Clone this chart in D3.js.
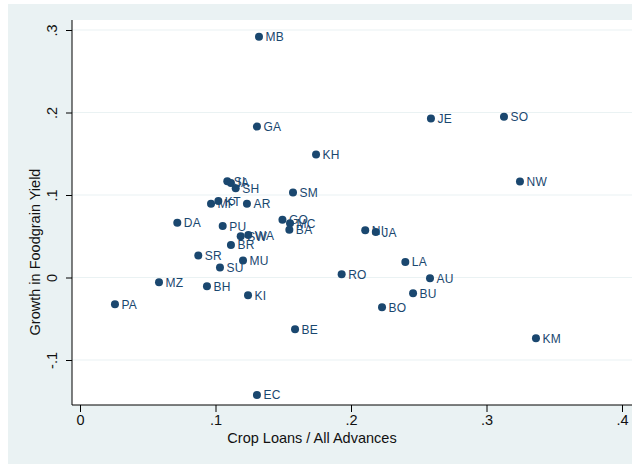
<!DOCTYPE html>
<html>
<head>
<meta charset="utf-8">
<script src="https://cdn.jsdelivr.net/npm/d3@7"></script>
<style>
  html, body { margin: 0; padding: 0; background: #ffffff; }
  svg { display: block; font-family: "Liberation Sans", Arial, Helvetica, sans-serif; }
</style>
</head>
<body>
<svg id="chart" width="636" height="464"></svg>
<script>
// Region codes, share of crop loans in all advances, and growth in foodgrain yield
const regions = ["MB","GA","JE","SO","KH","NW","SM","SI","IA","SH","KT","MP","AR","DA","PU",
  "SW","WA","BR","SR","MU","SU","GO","MC","BA","NI","JA","RO","LA","AU","BU","BO","BE","KM","EC","KI","BH","MZ","PA"];
const cropLoanShare = [0.1321,0.1306,0.2590,0.3129,0.1742,0.3247,0.1572,0.1087,0.1114,0.1149,0.1021,0.0967,0.1232,0.0718,0.1053,
  0.1186,0.1242,0.1114,0.0873,0.1203,0.1033,0.1494,0.1550,0.1545,0.2105,0.2183,0.1931,0.2401,0.2583,0.2458,0.2229,0.1587,0.3365,0.1306,0.1240,0.0937,0.0583,0.0258];
const yieldGrowth = [0.2918,0.1829,0.1926,0.1950,0.1491,0.1165,0.1031,0.1168,0.1146,0.1083,0.0926,0.0895,0.0895,0.0665,0.0624,
  0.0499,0.0515,0.0394,0.0266,0.0206,0.0121,0.0699,0.0657,0.0580,0.0572,0.0551,0.0040,0.0189,-0.0008,-0.0190,-0.0360,-0.0626,-0.0735,-0.1424,-0.0214,-0.0105,-0.0057,-0.0323];

const xTicks = [0, 0.1, 0.2, 0.3, 0.4];
const xTickLabels = ["0", ".1", ".2", ".3", ".4"];
const yTicks = [-0.1, 0, 0.1, 0.2, 0.3];
const yTickLabels = ["-.1", "0", ".1", ".2", ".3"];
const xTitle = "Crop Loans / All Advances";
const yTitle = "Growth in Foodgrain Yield";

const points = regions.map((r, i) => ({ code: r, x: cropLoanShare[i], y: yieldGrowth[i] }));

const svg = d3.select("#chart");
const navy = "#1a476f";
const outerBg = "#eaf2f3";

// graph region and plot region
const plot = { left: 72, top: 20, right: 632, bottom: 405 };

svg.append("rect").attr("x", 8).attr("y", 4).attr("width", 624).attr("height", 460).attr("fill", outerBg);
svg.append("rect").attr("x", plot.left).attr("y", plot.top)
  .attr("width", plot.right - plot.left).attr("height", plot.bottom - plot.top).attr("fill", "#ffffff");

const x = d3.scaleLinear().domain([0, 0.4]).range([80, 622]);
const y = d3.scaleLinear().domain([-0.1, 0.3]).range([360, 30]);

// horizontal grid lines
svg.append("g").selectAll("line").data(yTicks).join("line")
  .attr("x1", plot.left).attr("x2", plot.right)
  .attr("y1", d => y(d)).attr("y2", d => y(d))
  .attr("stroke", outerBg).attr("stroke-width", 1.2);

// y axis
const yAxis = d3.axisLeft(y).tickValues(yTicks).tickSize(6).tickPadding(4)
  .tickFormat((d, i) => yTickLabels[i]);
const gy = svg.append("g").attr("transform", `translate(${plot.left},0)`).call(yAxis);
gy.select(".domain").remove();
gy.append("line").attr("x1", 0).attr("x2", 0).attr("y1", plot.top).attr("y2", plot.bottom)
  .attr("stroke", "#000").attr("stroke-width", 1);
gy.selectAll(".tick line").attr("stroke", "#000");
gy.selectAll(".tick text")
  .attr("x", 0).attr("dy", null)
  .attr("transform", "translate(-15,0) rotate(-90)")
  .attr("text-anchor", "middle")
  .attr("fill", "#111").attr("font-size", 14.5);

// x axis
const xAxis = d3.axisBottom(x).tickValues(xTicks).tickSize(7).tickPadding(3)
  .tickFormat((d, i) => xTickLabels[i]);
const gx = svg.append("g").attr("transform", `translate(0,${plot.bottom})`).call(xAxis);
gx.select(".domain").remove();
gx.append("line").attr("x1", plot.left).attr("x2", plot.right).attr("y1", 0).attr("y2", 0)
  .attr("stroke", "#000").attr("stroke-width", 1);
gx.selectAll(".tick line").attr("stroke", "#000");
gx.selectAll(".tick text").attr("fill", "#111").attr("font-size", 14.5);

// axis titles
svg.append("text").attr("x", 312).attr("y", 443).attr("text-anchor", "middle")
  .attr("font-size", 14.5).attr("fill", "#111").text(xTitle);
svg.append("text").attr("transform", "translate(40,252) rotate(-90)").attr("text-anchor", "middle")
  .attr("font-size", 14.5).attr("fill", "#111").text(yTitle);

// markers and their labels (labels sit just right of each marker)
const g = svg.append("g");
g.selectAll("circle").data(points).join("circle")
  .attr("cx", d => x(d.x)).attr("cy", d => y(d.y)).attr("r", 4).attr("fill", navy);
g.selectAll("text").data(points).join("text")
  .attr("x", d => x(d.x) + 6.5).attr("y", d => y(d.y) + 4.5)
  .attr("font-size", 12).attr("letter-spacing", 0.3).attr("fill", navy).text(d => d.code);
</script>
</body>
</html>
